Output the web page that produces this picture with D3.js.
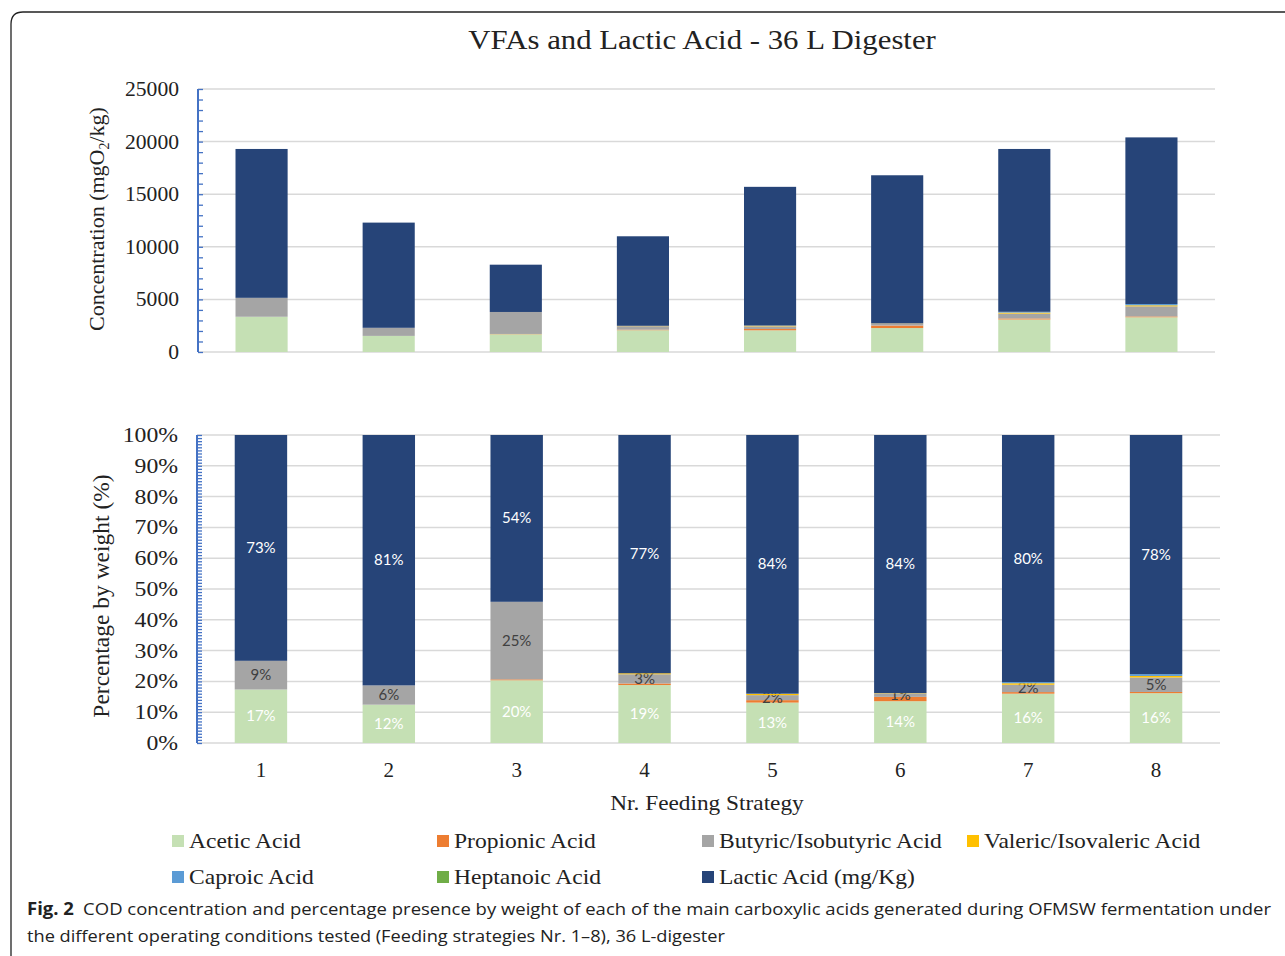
<!DOCTYPE html>
<html>
<head>
<meta charset="utf-8">
<script src="https://cdn.jsdelivr.net/npm/d3@7"></script>
<style>
  body { margin: 0; background: #fff; }
  svg { display: block; }
</style>
</head>
<body>
<div id="container"></div>
<script>
// data (mgO2/kg)
let strategies = ["1", "2", "3", "4", "5", "6", "7", "8"];
let acids = ["Acetic Acid", "Propionic Acid", "Butyric/Isobutyric Acid", "Valeric/Isovaleric Acid",
             "Caproic Acid", "Heptanoic Acid", "Lactic Acid (mg/Kg)"];
let acetic    = [3350, 1530, 1690, 2070, 2060, 2280, 3090, 3300];
let propionic = [0, 0, 25, 55, 125, 235, 100, 80];
let butyric   = [1800, 770, 2090, 330, 255, 185, 460, 960];
let valeric   = [0, 0, 0, 35, 60, 20, 95, 100];
let caproic   = [0, 0, 0, 0, 15, 0, 75, 120];
let heptanoic = [0, 0, 0, 0, 0, 0, 0, 0];
let lactic    = [14150, 10000, 4495, 8510, 13185, 14080, 15480, 15840];
let concTicks = [0, 5000, 10000, 15000, 20000, 25000];
let pctTicks = [0, 0.1, 0.2, 0.3, 0.4, 0.5, 0.6, 0.7, 0.8, 0.9, 1];

let colors = ["#c5e0b4", "#ed7d31", "#a5a5a5", "#ffc000", "#5b9bd5", "#70ad47", "#264478"];
let labelled = {"Acetic Acid": "#ffffff", "Butyric/Isobutyric Acid": "#404040", "Lactic Acid (mg/Kg)": "#ffffff"};

let w = 1285;
let h = 956;
let serif = "'Liberation Serif', 'Times New Roman', serif";

let series = [acetic, propionic, butyric, valeric, caproic, heptanoic, lactic];
let rows = strategies.map(function(s, i){
  let r = {strategy: s};
  acids.forEach(function(a, j){ r[a] = series[j][i]; });
  return r;
});

let color = d3.scaleOrdinal().domain(acids).range(colors);

let viz = d3.select("#container")
  .append("svg")
    .attr("width", w)
    .attr("height", h)
    .style("background-color", "white")
;

// the original figure is a little wider than the font, so stretch text sideways
function place(x, y, sx){
  return "translate(" + x + "," + y + ") scale(" + sx + ",1)";
}

// rounded frame (right and bottom run off the picture)
viz.append("path")
  .attr("d", "M11,965 L11,24 Q11,12 23,12 L1290,12")
  .attr("fill", "none")
  .attr("stroke", "#222")
  .attr("stroke-width", 1.3);

viz.append("text")
  .text("VFAs and Lactic Acid - 36 L Digester")
  .attr("transform", place(702, 49, 1.1))
  .attr("text-anchor", "middle")
  .attr("font-family", serif)
  .attr("font-size", "28px")
  .attr("fill", "#222");

function drawChart(opts){
  let g = viz.append("g");
  let xScale = d3.scaleBand().domain(strategies).range([opts.x0, opts.x1])
    .paddingInner(0.59).paddingOuter(0.295);
  let yScale = d3.scaleLinear().domain([0, opts.max]).range([opts.y0, opts.y1]);

  // gridlines
  g.selectAll(".grid").data(opts.ticks).enter().append("line")
    .attr("x1", opts.x0).attr("x2", opts.x1)
    .attr("y1", function(d){ return yScale(d); })
    .attr("y2", function(d){ return yScale(d); })
    .attr("stroke", "#d9d9d9").attr("stroke-width", 1.5);

  let stack = d3.stack().keys(acids);
  if (opts.expand) stack.offset(d3.stackOffsetExpand);
  let stacked = stack(rows);

  let layers = g.selectAll(".layer").data(stacked).enter().append("g")
    .attr("fill", function(d){ return color(d.key); });

  layers.selectAll("rect").data(function(d){ return d; }).enter().append("rect")
    .attr("x", function(d){ return xScale(d.data.strategy); })
    .attr("width", xScale.bandwidth())
    .attr("y", function(d){ return yScale(d[1]); })
    .attr("height", function(d){ return Math.max(0, yScale(d[0]) - yScale(d[1])); });

  // blue y axis with ticks on the inside
  let axis = d3.axisRight(yScale).tickValues(d3.range(0, opts.max + opts.minor / 2, opts.minor))
    .tickSize(5).tickFormat("");
  let ax = g.append("g").attr("transform", "translate(" + opts.x0 + ",0)").call(axis);
  ax.select(".domain").attr("stroke", "#4472c4").attr("stroke-width", 2).attr("d", "M0," + opts.y0 + "V" + opts.y1);
  ax.selectAll(".tick line").attr("stroke", "#4472c4").attr("stroke-width", 1.3);

  g.selectAll(".ylab").data(opts.ticks).enter().append("text")
    .text(opts.fmt)
    .attr("transform", function(d){ return place(opts.x0 - 19, yScale(d) + 7, opts.labStretch); })
    .attr("text-anchor", "end")
    .attr("font-family", serif)
    .attr("font-size", "21px")
    .attr("fill", "#222");

  if (opts.expand) {
    layers.filter(function(d){ return labelled[d.key]; })
      .selectAll(".val").data(function(d){ return d.map(function(p){ p.key = d.key; return p; }); })
      .enter().append("text")
      .text(function(d){ return Math.round((d[1] - d[0]) * 100) + "%"; })
      .attr("x", function(d){ return xScale(d.data.strategy) + xScale.bandwidth() / 2; })
      .attr("y", function(d){ return yScale((d[0] + d[1]) / 2) + 5; })
      .attr("text-anchor", "middle")
      .attr("font-family", "Lato, 'Open Sans', sans-serif")
      .attr("font-size", "15px")
      .attr("fill", function(d){ return labelled[d.key]; });
  }
  return xScale;
}

drawChart({x0: 198, x1: 1215, y0: 352, y1: 89, max: 25000, ticks: concTicks, minor: 1000,
  fmt: function(d){ return d; }, labStretch: 1.03, expand: false});

let xBottom = drawChart({x0: 197, x1: 1220, y0: 743, y1: 435, max: 1, ticks: pctTicks, minor: 0.01,
  fmt: d3.format(".0%"), labStretch: 1.13, expand: true});

// x tick labels under the percentage chart
viz.selectAll(".xlab").data(strategies).enter().append("text")
  .text(function(d){ return d; })
  .attr("x", function(d){ return xBottom(d) + xBottom.bandwidth() / 2; })
  .attr("y", 777)
  .attr("text-anchor", "middle")
  .attr("font-family", serif)
  .attr("font-size", "21px")
  .attr("fill", "#222");

viz.append("text")
  .text("Nr. Feeding Strategy")
  .attr("transform", place(707, 810, 1.06))
  .attr("text-anchor", "middle")
  .attr("font-family", serif)
  .attr("font-size", "22px")
  .attr("fill", "#222");

// axis titles
let t1 = viz.append("text")
  .attr("transform", "translate(104,219) rotate(-90)")
  .attr("text-anchor", "middle")
  .attr("font-family", serif)
  .attr("font-size", "22px")
  .attr("fill", "#222");
t1.append("tspan").text("Concentration (mgO");
t1.append("tspan").text("2").attr("font-size", "14px").attr("dy", 5);
t1.append("tspan").text("/kg)").attr("dy", -5);

viz.append("text")
  .text("Percentage by weight (%)")
  .attr("transform", "translate(109,596) rotate(-90)")
  .attr("text-anchor", "middle")
  .attr("font-family", serif)
  .attr("font-size", "23.5px")
  .attr("fill", "#222");

// legend
let legend = viz.selectAll(".legend").data(acids).enter().append("g")
  .attr("transform", function(d, i){
    return "translate(" + (172 + (i % 4) * 265) + "," + (841 + Math.floor(i / 4) * 36) + ")";
  });
legend.append("rect")
  .attr("x", 0).attr("y", -6).attr("width", 12).attr("height", 12)
  .attr("fill", function(d){ return color(d); });
legend.append("text")
  .text(function(d){ return d; })
  .attr("transform", place(17, 7, 1.07))
  .attr("font-family", serif)
  .attr("font-size", "22px")
  .attr("fill", "#222");

// caption
let cap1 = viz.append("text")
  .attr("x", 27).attr("y", 915)
  .attr("font-family", "'Open Sans', sans-serif")
  .attr("font-size", "17px")
  .attr("fill", "#222")
  .attr("textLength", 1244)
  .attr("lengthAdjust", "spacingAndGlyphs");
cap1.append("tspan").text("Fig. 2").attr("font-weight", "bold");
cap1.append("tspan").text("\u2002COD concentration and percentage presence by weight of each of the main carboxylic acids generated during OFMSW fermentation under");

viz.append("text")
  .text("the different operating conditions tested (Feeding strategies Nr. 1\u20138), 36 L-digester")
  .attr("x", 27).attr("y", 942)
  .attr("font-family", "'Open Sans', sans-serif")
  .attr("font-size", "17px")
  .attr("fill", "#222")
  .attr("textLength", 698)
  .attr("lengthAdjust", "spacingAndGlyphs");
</script>
</body>
</html>
